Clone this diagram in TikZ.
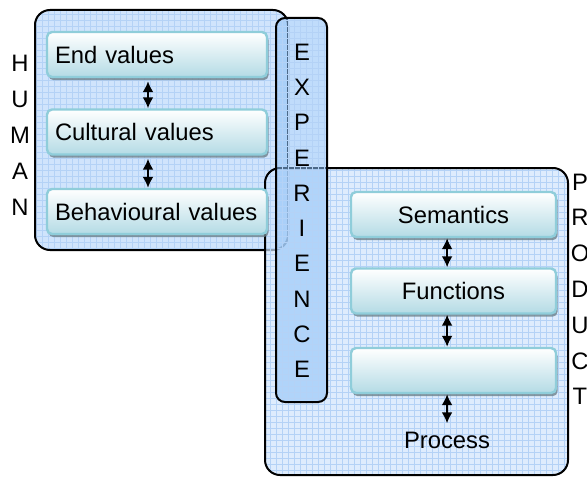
\documentclass[tikz,border=0pt]{standalone}
\usepackage{fontspec}
\setmainfont{Liberation Sans}
\usetikzlibrary{shadows,arrows.meta,patterns}
\definecolor{corpainel}{RGB}{208,228,252}
\definecolor{corgrade}{RGB}{180,210,246}
\definecolor{corfaixa}{RGB}{140,192,248}
\definecolor{corborda}{RGB}{143,205,218}
\definecolor{corfundo}{RGB}{180,219,229}
\definecolor{corsombra}{RGB}{110,130,140}
\tikzset{
  fundopainel/.style={fill=corpainel, rounded corners=7.5pt,
    postaction={pattern=grid, pattern color=corgrade}},
  borda/.style={draw=black, line width=1pt, rounded corners=7.5pt},
  faixa/.style={fill=corfaixa, fill opacity=0.55, rounded corners=4.5pt,
    postaction={pattern=grid, pattern color=corgrade}},
  caixa/.style={draw=corborda, line width=1.2pt, rounded corners=2.5pt, top color=white,
    bottom color=corfundo, minimum height=22.5pt, inner ysep=0pt,
    drop shadow={shadow xshift=0.8pt, shadow yshift=-1.6pt, fill=corsombra, opacity=0.8}},
  seta/.style={{Latex[length=5.5pt,width=5.5pt]}-{Latex[length=5.5pt,width=5.5pt]}, line width=1pt},
  letra/.style={font=\fontsize{11.9}{14}\selectfont, inner sep=0pt},
}
\begin{document}
\begin{tikzpicture}[x=0.5pt,y=-0.5pt] %um pixel = meio ponto
  \useasboundingbox (0,0) rectangle (587,476);
  %Paineis
  \path[fundopainel] (35,10) rectangle (288,250); %Humano
  \draw[borda] (35,10) rectangle (288,250);
  \path[fundopainel, fill opacity=0.7] (265,168) rectangle (568,475); %Produto
  \draw[borda] (265,168) rectangle (568,475);
  \path[faixa] (276,18) rectangle (327,402); %Experiencia
  \draw[borda, rounded corners=4.5pt] (276,18) rectangle (327,402);
  %Letras
  \foreach \l [count=\i] in {H,U,M,A,N}
    \node[letra] (hum\i) at (20,27+36*\i) {\l};
  \foreach \l [count=\i] in {E,X,P,E,R,I,E,N,C,E}
    \node[letra] (exp\i) at (302,16.7+35.3*\i) {\l};
  \foreach \l [count=\i] in {P,R,O,D,U,C,T}
    \node[letra] (prod\i) at (580,146.2+35.8*\i) {\l};
  %Caixas do lado humano
  \node[caixa, letra, text width=102pt, inner xsep=4pt, align=left] (fim) at (157,54.5) {End values};
  \node[caixa, letra, text width=102pt, inner xsep=4pt, align=left] (cult) at (157,132) {Cultural values};
  \node[caixa, letra, text width=102pt, inner xsep=4pt, align=left] (comp) at (157,211.5) {Behavioural values};
  %Caixas do lado produto
  \node[caixa, letra, minimum width=102.5pt] (sem) at (453.5,214.5) {Semantics\hspace{7pt}};
  \node[caixa, letra, minimum width=102.5pt] (fun) at (453.5,291) {Functions\hspace{7pt}};
  \node[caixa, letra, minimum width=102.5pt] (vazia) at (453.5,370.5) {};
  \node[letra] (proc) at (447,440) {Process};
  %Setas
  \draw[seta, shorten <=1.5pt] ([xshift=-4.5pt]fim.south) -- ([xshift=-4.5pt]cult.north);
  \draw[seta, shorten <=1.5pt] ([xshift=-4.5pt]cult.south) -- ([xshift=-4.5pt]comp.north);
  \draw[seta] ([xshift=-3.2pt]sem.south) -- ([xshift=-3.2pt]fun.north);
  \draw[seta] ([xshift=-3.2pt]fun.south) -- ([xshift=-3.2pt]vazia.north);
  \draw[seta, shorten >=4pt] ([xshift=-3.2pt]vazia.south) -- (proc.north);
\end{tikzpicture}
\end{document}
